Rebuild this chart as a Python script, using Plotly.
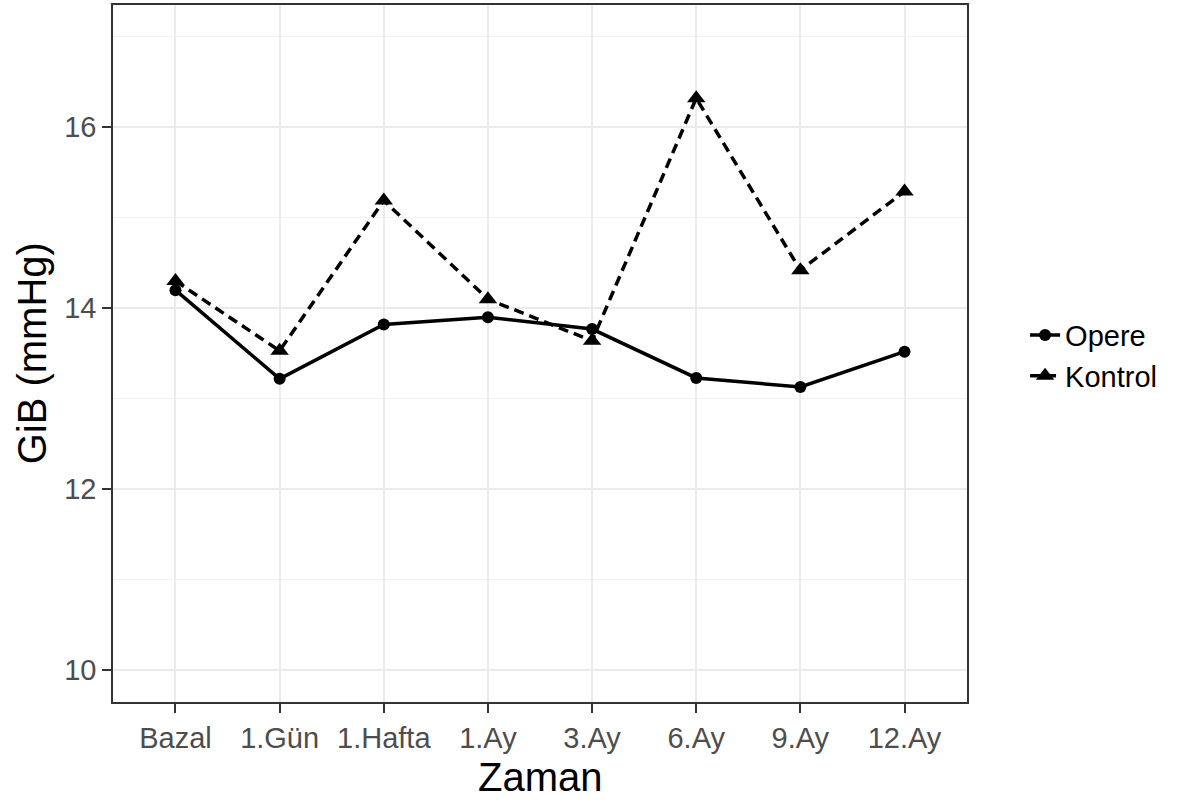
import plotly.graph_objects as go

# Measurement time points
zaman = ["Bazal", "1.Gün", "1.Hafta", "1.Ay", "3.Ay", "6.Ay", "9.Ay", "12.Ay"]

# Mean GiB (mmHg) per group
opere = [14.2, 13.22, 13.82, 13.9, 13.77, 13.23, 13.13, 13.52]
kontrol = [14.3, 13.53, 15.19, 14.1, 13.64, 16.32, 14.42, 15.29]

y_ticks = [10, 12, 14, 16]
y_minor = [11, 13, 15, 17]

FONT = "Liberation Sans, Arial, sans-serif"
TICK_GREY = "#4D4D4D"
BORDER = "#333333"

fig = go.Figure()

fig.add_trace(go.Scatter(
    x=list(range(len(zaman))), y=opere, name="Opere",
    mode="lines+markers",
    line=dict(color="black", width=3.5),
    marker=dict(symbol="circle", size=12, color="black"),
))
fig.add_trace(go.Scatter(
    x=list(range(len(zaman))), y=kontrol, name="Kontrol",
    mode="lines+markers",
    line=dict(color="black", width=3.5, dash="10px,6px"),
    marker=dict(symbol="triangle-up", size=16, color="black"),
))

fig.update_layout(
    width=1193, height=805,
    margin=dict(l=113, r=226, t=5, b=103),
    paper_bgcolor="white", plot_bgcolor="white",
    font=dict(family=FONT, color="black"),
    legend=dict(
        x=1.068, y=0.497, xanchor="left", yanchor="middle",
        font=dict(size=29, family=FONT, color="black"),
        itemwidth=30,
        bgcolor="rgba(0,0,0,0)",
    ),
    showlegend=True,
)

axis_common = dict(
    tickfont=dict(size=29, color=TICK_GREY, family=FONT),
    ticks="outside", ticklen=9, tickwidth=1.5, tickcolor=BORDER,
    showgrid=True, gridcolor="#EBEBEB", gridwidth=1.5,
    showline=True, linecolor=BORDER, linewidth=1.5, mirror=True,
    zeroline=False, automargin=False,
)

fig.update_xaxes(
    range=[-0.6, len(zaman) - 0.4],
    tickmode="array", tickvals=list(range(len(zaman))), ticktext=zaman,
    **axis_common,
)
fig.update_yaxes(
    range=[9.65, 17.35],
    tickmode="array", tickvals=y_ticks, ticktext=[str(v) for v in y_ticks],
    minor=dict(tickvals=y_minor, showgrid=True, gridcolor="#F2F2F2", gridwidth=1, ticks=""),
    **axis_common,
)

# Axis titles
fig.add_annotation(
    text="Zaman", xref="paper", yref="paper", x=0.5, y=-0.108,
    xanchor="center", yanchor="middle", showarrow=False,
    font=dict(size=40, family=FONT, color="black"),
)
fig.add_annotation(
    text="GiB (mmHg)", xref="paper", yref="paper", x=-0.095, y=0.5,
    xanchor="center", yanchor="middle", textangle=-90, showarrow=False,
    font=dict(size=40, family=FONT, color="black"),
)

fig.write_html("out.html")
